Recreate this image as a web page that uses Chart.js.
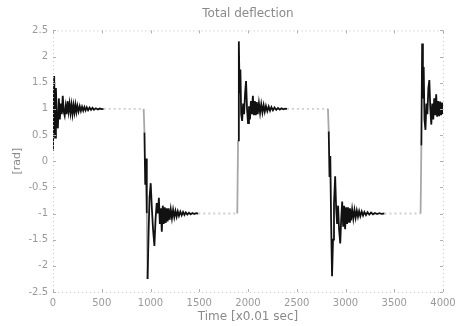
<!DOCTYPE html>
<html>
<head>
<meta charset="utf-8">
<script src="https://cdn.jsdelivr.net/npm/chart.js@4"></script>
<style>
  html, body { margin: 0; padding: 0; background: #fff; }
  canvas { display: block; }
</style>
</head>
<body>
<canvas id="grafico" width="458" height="326"></canvas>
<script>
// tempo (x0.01 s) e deflexao (rad)
const time = [
  0, 12, 22, 30, 40, 50, 60, 70, 80, 90, 100, 110, 120, 130, 140, 150, 160, 170, 180, 190, 200, 210, 220, 230, 240, 250,
  262, 274, 286, 298, 310, 322, 334, 346, 360, 375, 390, 405, 420, 440, 460, 480, 500, 520, 930,
  938, 946, 954, 962, 970, 980, 990, 1002, 1014, 1026, 1040, 1052, 1064, 1076, 1086, 1096, 1106, 1116, 1126, 1136, 1146,
  1156, 1166, 1176, 1186, 1196, 1208, 1220, 1232, 1244, 1256, 1268, 1280, 1292, 1306, 1320, 1334, 1348, 1362, 1378, 1394,
  1412, 1430, 1450, 1470, 1490, 1890,
  1898, 1906, 1914, 1922, 1930, 1940, 1950, 1960, 1970, 1980, 1990, 2000, 2010, 2020, 2030, 2040, 2050, 2060, 2070, 2080,
  2090, 2100, 2112, 2124, 2136, 2148, 2160, 2172, 2184, 2198, 2212, 2226, 2240, 2256, 2272, 2290, 2308, 2326, 2344, 2362,
  2380, 2400, 2820,
  2828, 2836, 2844, 2852, 2862, 2872, 2882, 2894, 2904, 2914, 2924, 2934, 2946, 2956, 2966, 2976, 2986, 2996, 3006, 3016,
  3026, 3036, 3046, 3056, 3068, 3080, 3092, 3104, 3116, 3128, 3140, 3152, 3166, 3180, 3194, 3210, 3226, 3244, 3262, 3282,
  3302, 3324, 3346, 3370, 3400, 3770,
  3778, 3786, 3794, 3802, 3810, 3820, 3830, 3840, 3850, 3860, 3870, 3880, 3890, 3900, 3910, 3920, 3930, 3940, 3950, 3960,
  3970, 3980, 3990, 4000
];
const deflection = [
  0.2, 1.63, 0.45, 1.4, 0.75, 0.63, 1.2, 0.8, 1.1, 0.9, 1.25, 0.95, 0.87, 1.05, 0.9, 1.15, 0.95, 1.1, 0.92, 1.08, 0.9, 1.07, 0.93, 1.08, 0.94, 1.06,
  0.95, 1.05, 0.96, 1.04, 0.965, 1.035, 0.97, 1.03, 0.975, 1.025, 0.98, 1.02, 0.985, 1.012, 0.99, 1.006, 0.995, 1, 1,
  0.55, -0.45, 0.05, -1.0, -2.25, -1.4, -0.7, -0.42, -0.9, -1.3, -1.62, -1.1, -0.8, -1.0, -0.7, -1.2, -0.9, -1.35, -0.85, -1.2, -0.88,
  -1.18, -0.9, -1.15, -0.9, -1.12, -0.92, -1.09, -0.93, -1.07, -0.95, -1.06, -0.96, -1.045, -0.965, -1.035, -0.97, -1.028, -0.978, -1.02, -0.985,
  -1.014, -0.99, -1.008, -0.995, -1, -1,
  0.4, 2.29, 1.3, 1.75, 0.9, 0.77, 1.1, 0.9, 1.3, 1.53, 1.0, 0.73, 1.05, 0.8, 1.15, 0.9, 1.25, 0.88, 1.15, 0.88,
  1.13, 0.9, 1.11, 0.92, 1.09, 0.93, 1.07, 0.945, 1.055, 0.955, 1.045, 0.965, 1.035, 0.972, 1.026, 0.98, 1.017, 0.987, 1.01, 0.993,
  1.005, 1, 1,
  0.57, -0.3, 0.1, -1.1, -2.2, -1.5, -0.8, -0.29, -0.9, -1.2, -0.85, -1.3, -1.57, -1.1, -0.77, -1.25, -0.85, -1.3, -0.88, -1.2,
  -0.88, -1.16, -0.9, -1.13, -0.92, -1.1, -0.93, -1.08, -0.945, -1.06, -0.955, -1.05, -0.962, -1.04, -0.97, -1.03, -0.976, -1.022, -0.983, -1.015,
  -0.99, -1.01, -0.994, -1.005, -1, -1,
  0.3, 2.25, 1.2, 1.8, 0.8, 0.6, 1.1, 0.9, 1.4, 1.55, 1.0, 0.7, 1.1, 0.8, 1.2, 0.88, 1.28, 0.85, 1.15, 0.86,
  1.14, 0.88, 1.12, 0.9
];
const xTicks = [0, 500, 1000, 1500, 2000, 2500, 3000, 3500, 4000];
const yTicks = [-2.5, -2, -1.5, -1, -0.5, 0, 0.5, 1, 1.5, 2, 2.5];

const cinza = '#9a9a9a';
const fonte = 'DejaVu Sans';

// caixa pontilhada e marcas para dentro, estilo matlab
const caixa = {
  id: 'caixa',
  afterDraw(chart) {
    const c = chart.ctx, a = chart.chartArea;
    const sx = chart.scales.x, sy = chart.scales.y;
    c.save();
    c.strokeStyle = '#c4c4c4';
    c.lineWidth = 1;
    c.setLineDash([1, 3]);
    c.strokeRect(a.left + 0.5, a.top + 0.5, a.right - a.left, a.bottom - a.top);
    c.setLineDash([]);
    c.strokeStyle = '#b0b0b0';
    c.beginPath();
    xTicks.forEach(v => {
      const px = Math.round(sx.getPixelForValue(v)) + 0.5;
      c.moveTo(px, a.bottom); c.lineTo(px, a.bottom - 3);
      c.moveTo(px, a.top); c.lineTo(px, a.top + 3);
    });
    yTicks.forEach(v => {
      const py = Math.round(sy.getPixelForValue(v)) + 0.5;
      c.moveTo(a.left, py); c.lineTo(a.left + 3, py);
      c.moveTo(a.right, py); c.lineTo(a.right - 3, py);
    });
    c.stroke();
    c.restore();
  }
};

function estiloCor(ctx) {
  const y0 = ctx.p0.parsed.y, y1 = ctx.p1.parsed.y;
  if (y0 === y1) return '#cfcfcf';
  if (Math.abs(y0) === 1 && Math.abs(y1 - y0) > 0.4) return '#a8a8a8';
  return '#111';
}

const pontos = time.map((t, i) => ({ x: t, y: deflection[i] }));

new Chart(document.getElementById('grafico'), {
  type: 'line',
  data: {
    datasets: [{
      data: pontos,
      borderColor: '#111',
      borderWidth: 1.8,
      pointRadius: 0,
      tension: 0,
      segment: {
        borderColor: estiloCor,
        borderDash: ctx => ctx.p0.parsed.y === ctx.p1.parsed.y ? [2, 3] : undefined
      }
    }]
  },
  options: {
    responsive: false,
    animation: false,
    devicePixelRatio: 1,
    layout: { padding: { left: 0, right: 15, top: 0, bottom: 0 } },
    plugins: {
      legend: { display: false },
      tooltip: { enabled: false },
      title: {
        display: true,
        text: 'Total deflection',
        fullSize: false,
        color: '#8a8a8a',
        font: { family: fonte, size: 12, weight: 'normal' },
        padding: { top: 7, bottom: 9 }
      }
    },
    scales: {
      x: {
        type: 'linear',
        min: 0,
        max: 4000,
        afterBuildTicks: s => { s.ticks = xTicks.map(v => ({ value: v })); },
        afterFit: s => { s.height = 34; s.paddingLeft = 0; s.paddingRight = 0; },
        grid: { display: false, drawTicks: false },
        border: { display: false },
        ticks: { color: cinza, padding: 5, maxRotation: 0, font: { family: fonte, size: 10 }, callback: v => String(v) },
        title: {
          display: true,
          text: 'Time [x0.01 sec]',
          color: '#8a8a8a',
          font: { family: fonte, size: 12 },
          padding: { top: 0, bottom: 2 }
        }
      },
      y: {
        min: -2.5,
        max: 2.5,
        afterBuildTicks: s => { s.ticks = yTicks.map(v => ({ value: v })); },
        afterFit: s => { s.width = 53; s.paddingTop = 0; s.paddingBottom = 0; },
        grid: { display: false, drawTicks: false },
        border: { display: false },
        ticks: { color: cinza, padding: 5, font: { family: fonte, size: 10 }, callback: v => String(v) },
        title: {
          display: true,
          text: '[rad]',
          color: '#8a8a8a',
          font: { family: fonte, size: 11 },
          padding: { top: 11, bottom: 0 }
        }
      }
    }
  },
  plugins: [caixa]
});
</script>
</body>
</html>
